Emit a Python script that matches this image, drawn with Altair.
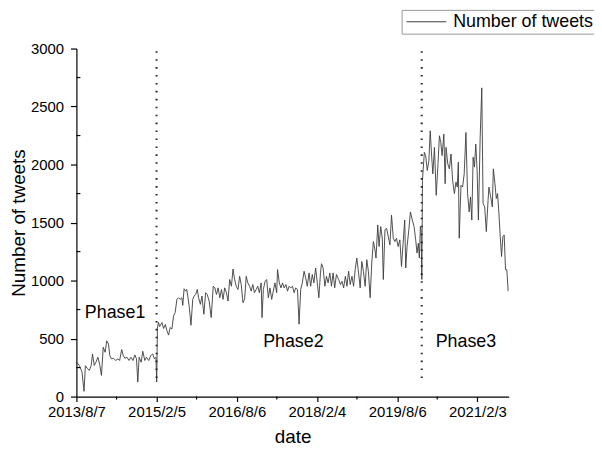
import altair as alt
import pandas as pd

# ---- data ----
# days after 2013-08-07, and weekly number of tweets
day_offsets = [
    2, 20, 38, 52, 61, 77, 88, 101, 110, 122, 133, 147, 160, 171, 183, 196, 207, 219, 228, 239,
    253, 268, 284, 295, 309, 320, 331, 345, 359, 372, 386, 399, 410, 419, 428, 442, 453, 467, 478, 494,
    507, 521, 532, 543, 548, 553, 560, 568,
    584, 595, 607, 618, 629, 640, 652, 663, 674, 686, 697, 708, 720, 726, 735, 746, 753, 762, 771, 782,
    794, 803, 814, 825, 834, 846, 857, 870, 882, 893, 906, 920, 934, 945, 956, 967, 979, 990, 1001, 1012,
    1024, 1035, 1046, 1058, 1069, 1080, 1091, 1103, 1114, 1125, 1137, 1148, 1159, 1170,
    1182, 1193, 1204, 1215, 1227, 1238, 1249, 1261, 1267, 1276, 1288, 1299, 1310, 1321, 1333, 1344, 1355, 1367,
    1373, 1385, 1396, 1407, 1418, 1430, 1441, 1452, 1463, 1475, 1486, 1497, 1509, 1520, 1531, 1542, 1554, 1565,
    1576, 1588, 1599, 1610, 1621, 1633, 1644, 1655, 1666, 1673, 1684, 1696, 1707, 1718, 1730, 1741, 1752, 1763, 1775,
    1790, 1802, 1813, 1824, 1836, 1847, 1858, 1869, 1881, 1892, 1903, 1914, 1926, 1937, 1948, 1959, 1971, 1982,
    1993, 2005, 2016, 2027, 2038, 2045, 2057, 2066, 2077, 2088, 2095, 2106, 2117, 2129, 2140, 2151, 2163, 2174,
    2185, 2196, 2208, 2219, 2230, 2241, 2248, 2257, 2269, 2280, 2293, 2305, 2316, 2325, 2334, 2341, 2348, 2353, 2358,
    2362, 2375, 2384, 2395, 2406, 2415, 2424, 2433, 2444, 2456, 2467, 2478, 2487, 2496, 2508, 2517, 2523, 2535,
    2546, 2557, 2568, 2580, 2591, 2600, 2607, 2613, 2625, 2636, 2647, 2659, 2670, 2681, 2690, 2699, 2708, 2717,
    2726, 2735, 2744, 2756, 2767, 2776, 2787, 2798, 2810, 2816, 2828, 2839, 2846, 2857, 2866, 2875, 2884, 2893,
    2902, 2911, 2920, 2929, 2938, 2947,
]
tweets = [
    296, 268, 213, 45, 266, 239, 225, 268, 367, 268, 296, 339, 268, 182, 425, 382, 481, 453, 353, 325,
    330, 311, 325, 311, 405, 353, 330, 339, 311, 339, 311, 359, 325, 125, 339, 296, 390, 311, 339, 311,
    353, 367, 325, 339, 125, 590, 640, 604,
    638, 587, 621, 567, 530, 595, 582, 695, 724, 838, 852, 838, 852, 786, 929, 909, 923, 852, 766, 615,
    838, 866, 880, 923, 852, 795, 866, 709, 895, 880, 823, 681, 951, 937, 880, 937, 852, 923, 838, 937,
    895, 823, 1009, 951, 1100, 1009, 951, 923, 1037, 966, 809, 838, 1037, 980,
    951, 909, 966, 895, 923, 951, 895, 980, 681, 923, 994, 1009, 852, 937, 838, 909, 980, 895,
    1094, 980, 937, 980, 937, 966, 909, 951, 937, 951, 895, 937, 923, 624, 923, 980, 1080, 1023,
    951, 1066, 951, 1052, 980, 1108, 980, 852, 1066, 1145, 1108, 951, 1037, 980, 1066, 951, 1066, 937, 1052,
    1009, 966, 994, 937, 1037, 951, 1080, 966, 1037, 951, 1094, 1194, 1066, 937, 1165, 1080, 951, 1180,
    1080, 852, 1151, 1336, 1265, 1194, 1479, 1293, 1465, 1365, 1009, 1436, 1451, 1379, 1308, 1564, 1365, 1336,
    1365, 1293, 1351, 1122, 1322, 1521, 1108, 1293, 1436, 1592, 1521, 1465, 1351, 1237, 1322, 1194, 1465, 1436, 1010,
    1863, 2105, 2077, 1949, 2034, 2291, 2091, 1920, 2148, 1735, 1978, 2248, 2191, 2077, 2262, 1835, 2148, 2006,
    1963, 2091, 1863, 1750, 1849, 1806, 2020, 1365, 1821, 1806, 1920, 2276, 1750, 1592, 1721, 1521, 2063, 1978,
    2177, 1949, 1521, 2234, 2661, 1664, 1635, 1422, 1692, 1806, 1721, 1635, 1963, 1835, 1707, 1750, 1578, 1379,
    1208, 1379, 1393, 1094, 1094, 909,
]

series_name = "Number of tweets"
phase_dates = ["2015-02-05", "2020-01-20"]
phase_labels = ["Phase1", "Phase2", "Phase3"]
phase_label_dates = ["2014-04-28", "2017-08-27", "2020-11-17"]
phase_label_values = [718, 470, 470]

x_tick_dates = ["2013-08-07", "2015-02-05", "2016-08-06", "2018-02-04", "2019-08-06", "2021-02-03"]
x_minor_dates = ["2014-05-08", "2015-11-05", "2017-05-06", "2018-11-04", "2020-05-05"]
y_ticks = [0, 500, 1000, 1500, 2000, 2500, 3000]
y_minor = [250, 750, 1250, 1750, 2250, 2750]

# ---- tables ----
start = pd.Timestamp("2013-08-07")
df = pd.DataFrame({
    "date": start + pd.to_timedelta(day_offsets, unit="D"),
    "tweets": tweets,
    "series": series_name,
})
rules_df = pd.DataFrame({"date": pd.to_datetime(phase_dates), "lo": 160, "hi": 2990})
labels_df = pd.DataFrame({"date": pd.to_datetime(phase_label_dates),
                          "val": phase_label_values, "label": phase_labels})
xminor_df = pd.DataFrame({"date": pd.to_datetime(x_minor_dates)})
yminor_df = pd.DataFrame({"val": y_minor})


def dt(s):
    t = pd.Timestamp(s)
    return alt.DateTime(year=t.year, month=t.month, date=t.day)


W, H = 436, 351
FONT = "Liberation Sans"
XT, YT = "date", "Number of tweets"

x_scale = alt.Scale(domain=[dt("2013-08-07"), dt("2021-09-05")], nice=False)
y_scale = alt.Scale(domain=[0, 3000], nice=False, zero=False)

line = alt.Chart(df).mark_line(strokeWidth=0.9, interpolate="linear").encode(
    x=alt.X("date:T", scale=x_scale, title=XT,
            axis=alt.Axis(values=[dt(d) for d in x_tick_dates], format="%Y/%-m/%-d",
                          labelFontSize=15, titleFontSize=19, labelFont=FONT, titleFont=FONT,
                          labelColor="black", titleColor="black", titleFontWeight="normal",
                          tickSize=5, tickColor="black", domainColor="black", domainWidth=1.2,
                          tickWidth=1.2, labelPadding=3, titlePadding=8, grid=False,
                          labelFlush=False, labelOverlap=False)),
    y=alt.Y("tweets:Q", scale=y_scale, title=YT,
            axis=alt.Axis(values=y_ticks, format="d", labelFontSize=15, titleFontSize=19,
                          labelFont=FONT, titleFont=FONT, labelColor="black", titleColor="black",
                          titleFontWeight="normal", tickSize=6, tickColor="black",
                          domainColor="black", domainWidth=1.2, tickWidth=1.2,
                          labelPadding=7, titlePadding=2, grid=False, labelFlush=False)),
    color=alt.Color("series:N", scale=alt.Scale(range=["#3c3c3c"]),
                    legend=alt.Legend(title=None, orient="none", legendX=328, legendY=-39,
                                      symbolType="M-2.5,0H2.5", symbolSize=256,
                                      symbolStrokeWidth=1, symbolOffset=13,
                                      labelFontSize=18, labelFont=FONT, labelColor="black",
                                      strokeColor="#999999", fillColor="white", padding=3,
                                      labelOffset=18)),
)

rules = alt.Chart(rules_df).mark_rule(color="#222222", strokeWidth=2, strokeDash=[1.6, 6.4],
                                      strokeCap="butt").encode(
    x=alt.X("date:T", scale=x_scale, title=XT),
    y=alt.Y("lo:Q", scale=y_scale, title=YT),
    y2="hi:Q",
)

texts = alt.Chart(labels_df).mark_text(fontSize=18, font=FONT, color="black",
                                        align="center", baseline="middle").encode(
    x=alt.X("date:T", scale=x_scale, title=XT),
    y=alt.Y("val:Q", scale=y_scale, title=YT),
    text="label:N",
)

xminor = alt.Chart(xminor_df).mark_rule(color="black", strokeWidth=1.2).encode(
    x=alt.X("date:T", scale=x_scale, title=XT),
    y=alt.value(H),
    y2=alt.value(H + 3),
)

yminor = alt.Chart(yminor_df).mark_rule(color="black", strokeWidth=1.2).encode(
    y=alt.Y("val:Q", scale=y_scale, title=YT),
    x=alt.value(0),
    x2=alt.value(4),
)

chart = alt.layer(line, rules, texts, xminor, yminor).properties(
    width=W, height=H,
    padding={"left": 69, "top": 39, "right": 86, "bottom": 52},
    autosize=alt.AutoSizeParams(type="none"),
    background="white",
).configure_view(stroke=None)

chart.save("out.html", embed_options={"renderer": "svg", "actions": False})
